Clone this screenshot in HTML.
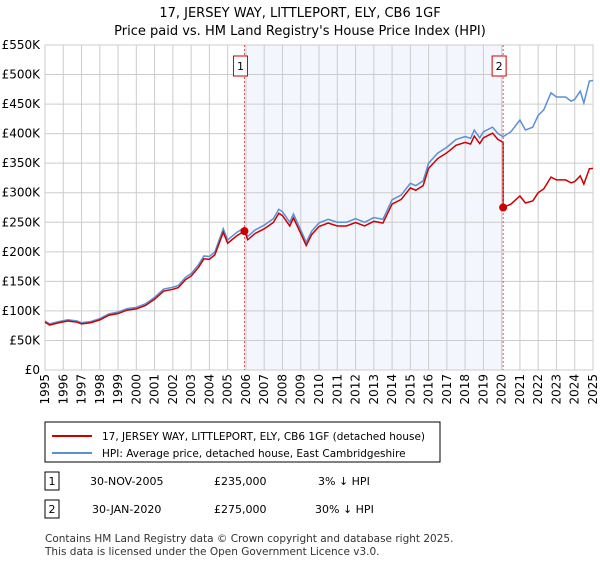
<!DOCTYPE html>
<html><head><meta charset="utf-8"><style>
body{margin:0;background:#fff;font-family:"Liberation Sans","DejaVu Sans",sans-serif;}
</style></head><body>
<svg width="600" height="560" viewBox="0 0 600 560" font-family="DejaVu Sans, Liberation Sans, sans-serif">
<text x="300" y="17" text-anchor="middle" font-size="13">17, JERSEY WAY, LITTLEPORT, ELY, CB6 1GF</text>
<text x="300" y="35" text-anchor="middle" font-size="13">Price paid vs. HM Land Registry's House Price Index (HPI)</text>
<g id="plot"></g>
<g>
<rect x="45" y="422" width="395" height="40" fill="#fff" stroke="#000"/>
<line x1="52" y1="436" x2="92" y2="436" stroke="#cc0000" stroke-width="2"/>
<text x="102" y="440" font-size="10.5">17, JERSEY WAY, LITTLEPORT, ELY, CB6 1GF (detached house)</text>
<line x1="52" y1="453" x2="92" y2="453" stroke="#5b8fd6" stroke-width="2"/>
<text x="102" y="457" font-size="10.5">HPI: Average price, detached house, East Cambridgeshire</text>
</g>
<g font-size="11">
<rect x="45" y="472" width="14" height="18" fill="#fff" stroke="#000"/>
<text x="52" y="485" text-anchor="middle">1</text>
<text x="90" y="485">30-NOV-2005</text>
<text x="214" y="485">£235,000</text>
<text x="318" y="485">3% ↓ HPI</text>
<rect x="45" y="500" width="14" height="18" fill="#fff" stroke="#000"/>
<text x="52" y="513" text-anchor="middle">2</text>
<text x="92" y="513">30-JAN-2020</text>
<text x="214" y="513">£275,000</text>
<text x="315" y="513">30% ↓ HPI</text>
</g>
<text x="45" y="542" font-size="10.5" fill="#333">Contains HM Land Registry data © Crown copyright and database right 2025.</text>
<text x="45" y="555" font-size="10.5" fill="#333">This data is licensed under the Open Government Licence v3.0.</text>
</svg>
<script>
const hpiYears=[1995,1995.25,1995.75,1996.25,1996.75,1997,1997.5,1998,1998.5,1999,1999.5,2000,2000.5,2001,2001.5,2002,2002.3,2002.7,2003,2003.4,2003.7,2004,2004.3,2004.76,2005,2005.5,2005.92,2006.1,2006.5,2007,2007.5,2007.8,2008,2008.4,2008.6,2009,2009.3,2009.6,2010,2010.5,2011,2011.5,2012,2012.5,2013,2013.5,2014,2014.5,2015,2015.3,2015.7,2016,2016.5,2017,2017.5,2018,2018.3,2018.5,2018.8,2019,2019.5,2019.8,2020.08,2020.5,2021,2021.3,2021.7,2022,2022.3,2022.7,2023,2023.5,2023.8,2024,2024.3,2024.5,2024.8,2025];
const hpiValues=[83,78,82,85,83,80,82,87,95,98,104,106,112,123,137,140,143,157,163,178,193,192,200,239,220,233,241,226,237,245,256,272,268,250,264,237,216,235,249,255,250,250,256,250,258,255,288,296,316,312,320,350,367,377,390,395,392,406,393,403,411,400,395,403,423,406,411,431,440,469,462,462,455,458,472,452,489,490];
const saleYears=[2005.92,2020.08];
const salePrices=[235,275];
const saleLabels=["1","2"];
const yTicks=[0,50,100,150,200,250,300,350,400,450,500,550];
const yTickLabels=["£0","£50K","£100K","£150K","£200K","£250K","£300K","£350K","£400K","£450K","£500K","£550K"];
const xTicks=[1995,1996,1997,1998,1999,2000,2001,2002,2003,2004,2005,2006,2007,2008,2009,2010,2011,2012,2013,2014,2015,2016,2017,2018,2019,2020,2021,2022,2023,2024,2025];

const L=45,R=593,T=45,B=370;
const xs=y=>L+(y-1995)/30*(R-L);
const ys=v=>B-v/550*(B-T);
const NS="http://www.w3.org/2000/svg";
const g=document.getElementById('plot');
function mk(t,a){const e=document.createElementNS(NS,t);for(const k in a)e.setAttribute(k,a[k]);g.appendChild(e);return e;}
let e=mk('rect',{x:xs(saleYears[0]),y:T,width:xs(saleYears[1])-xs(saleYears[0]),height:B-T,fill:'#eef2fc',opacity:0.7});


yTicks.forEach((v,i)=>{
 let l=mk('line',{x1:L,x2:R,y1:ys(v),y2:ys(v),stroke:'#cccccc'});
 
 
 let t=mk('text',{x:L-5,y:ys(v)+4,'text-anchor':'end','font-size':12});
 t.textContent=yTickLabels[i];
 
 
});
xTicks.forEach(y=>{
 let l=mk('line',{x1:xs(y),x2:xs(y),y1:T,y2:B,stroke:'#cccccc'});
 
 
 let t=mk('text',{x:0,y:0,'text-anchor':'end','font-size':12,transform:`translate(${xs(y)+4},${B+4}) rotate(-90)`});
 t.textContent=y;
 
 
});
e=mk('rect',{x:L,y:T,width:R-L,height:B-T,fill:'none',stroke:'#cccccc'});


function hpiAt(y){for(let i=1;i<hpiYears.length;i++){if(y<=hpiYears[i]){const f=(y-hpiYears[i-1])/(hpiYears[i]-hpiYears[i-1]);return hpiValues[i-1]+f*(hpiValues[i]-hpiValues[i-1]);}}return hpiValues[hpiValues.length-1];}
const r1=salePrices[0]/hpiAt(saleYears[0]), r2=salePrices[1]/hpiAt(saleYears[1]);
let bp=hpiYears.map((y,i)=>xs(y)+','+ys(hpiValues[i])).join(' ');
let rp=[];
hpiYears.forEach((y,i)=>{
 if(y<saleYears[1]) rp.push(xs(y)+','+ys(hpiValues[i]*r1));
 else { if(Math.abs(y-saleYears[1])<1e-6){rp.push(xs(y)+','+ys(hpiValues[i]*r1));} rp.push(xs(y)+','+ys(hpiValues[i]*r2)); }
});
e=mk('polyline',{points:bp,fill:'none',stroke:'#5b8fd6','stroke-width':1.5});


e=mk('polyline',{points:rp.join(' '),fill:'none',stroke:'#cc0000','stroke-width':1.5});


saleYears.forEach((y,i)=>{
 let l=mk('line',{x1:xs(y),x2:xs(y),y1:T,y2:B,stroke:'#e05050','stroke-dasharray':'2,2'});
 
 
 let c=mk('circle',{cx:xs(y),cy:ys(salePrices[i]),r:4,fill:'#cc0000'});
 
 
 let b=mk('rect',{x:xs(y)-11,y:56,width:14,height:20,fill:'#fff',stroke:'#cc0000'});
 
 
 let t=mk('text',{x:xs(y)-4,y:70,'text-anchor':'middle','font-size':11});
 t.textContent=saleLabels[i];
 
 
});
</script>
</body></html>
